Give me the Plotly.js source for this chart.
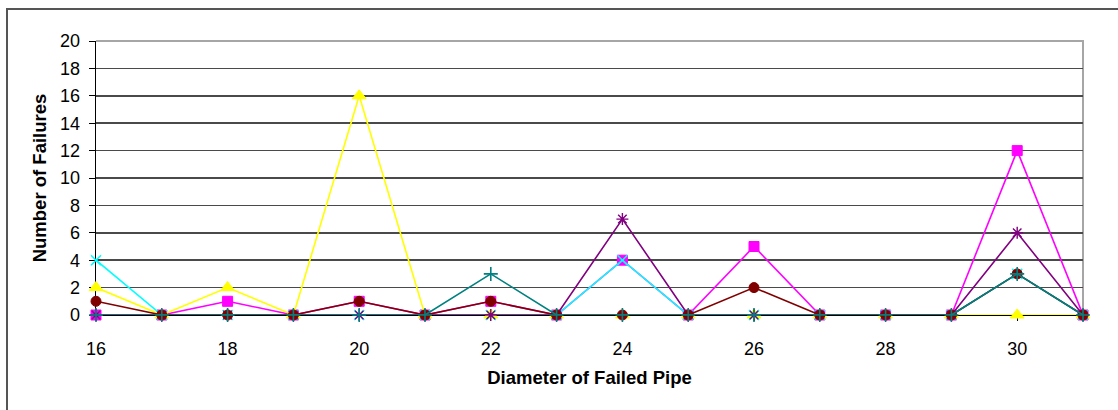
<!DOCTYPE html>
<html>
<head>
<meta charset="utf-8">
<script src="https://cdn.plot.ly/plotly-3.0.1.min.js"></script>
<style>
  html, body { margin: 0; padding: 0; background: #ffffff; overflow: hidden; }
  #frame {
    position: absolute; left: 6px; top: 8px;
    width: 1300px; height: 600px;
    border: 2px solid #555555; box-sizing: border-box;
  }
  #chart { position: absolute; left: 0; top: 0; width: 1118px; height: 410px; }
</style>
</head>
<body>
<div id="frame"></div>
<div id="chart"></div>
<script>
// Pipe diameters (x axis categories)
const diameters = [16, 17, 18, 19, 20, 21, 22, 23, 24, 25, 26, 27, 28, 29, 30, 31];
const xTickVals = [16, 18, 20, 22, 24, 26, 28, 30];

// Failure counts per series
const seriesMagenta = [0, 0, 1, 0, 1, 0, 1, 0, 4, 0, 5, 0, 0, 0, 12, 0];
const seriesYellow  = [2, 0, 2, 0, 16, 0, 0, 0, 0, 0, 0, 0, 0, 0, 0, 0];
const seriesCyan    = [4, 0, 0, 0, 0, 0, 0, 0, 4, 0, 0, 0, 0, 0, 3, 0];
const seriesPurple  = [0, 0, 0, 0, 0, 0, 0, 0, 7, 0, 0, 0, 0, 0, 6, 0];
const seriesDarkRed = [1, 0, 0, 0, 1, 0, 1, 0, 0, 0, 2, 0, 0, 0, 3, 0];
const seriesTeal    = [0, 0, 0, 0, 0, 0, 3, 0, 0, 0, 0, 0, 0, 0, 3, 0];

function line(name, y, color, symbol, size, lineW) {
  return {
    type: 'scatter', mode: 'lines+markers', name: name,
    x: diameters, y: y,
    line: { color: color, width: 1.6 },
    marker: { symbol: symbol, size: size, color: color, line: { color: color, width: lineW } },
    cliponaxis: false, showlegend: false
  };
}

const traces = [
  line('Series 2', seriesMagenta, '#FF00FF', 'square', 10, 1),
  line('Series 3', seriesYellow,  '#FFFF00', 'triangle-up', 12, 1),
  line('Series 4', seriesCyan,    '#00FFFF', 'x-thin-open', 10, 1.6),
  line('Series 5', seriesPurple,  '#800080', 'asterisk-open', 10, 1.4),
  line('Series 6', seriesDarkRed, '#800000', 'circle', 10, 1),
  line('Series 7', seriesTeal,    '#008080', 'cross-thin-open', 10, 1.6)
];

const tickFont = { family: 'Liberation Sans, Arial, sans-serif', size: 18, color: '#000000' };
const titleFont = { family: 'Liberation Sans, Arial, sans-serif', size: 18.5, color: '#000000', weight: 'bold' };

const layout = {
  width: 1118, height: 410,
  margin: { l: 96, r: 35, t: 41, b: 95 },
  paper_bgcolor: 'rgba(0,0,0,0)', plot_bgcolor: '#ffffff',
  xaxis: {
    range: [16, 31], tickvals: xTickVals, ticktext: xTickVals.map(String),
    showgrid: false, zeroline: false,
    showline: true, linecolor: '#000000', linewidth: 1,
    ticks: 'outside', ticklen: 5, tickcolor: '#000000', tickwidth: 1,
    ticklabelstandoff: 12,
    tickfont: tickFont, layer: 'below traces',
    title: { text: '<b>Diameter of Failed Pipe</b>', font: titleFont, standoff: 13 }
  },
  yaxis: {
    range: [0, 20], dtick: 2, tick0: 0,
    showgrid: true, gridcolor: '#4a4a4a', gridwidth: 1.6,
    zeroline: false,
    showline: true, linecolor: '#000000', linewidth: 1.4,
    ticks: 'outside', ticklen: 6, tickcolor: '#000000', tickwidth: 1,
    ticklabelstandoff: 5,
    tickfont: tickFont, layer: 'below traces',
    title: { text: '<b>Number of Failures</b>', font: titleFont, standoff: 8 }
  },
  shapes: [{
    type: 'path', xref: 'paper', yref: 'paper', layer: 'between',
    path: 'M 0 1 L 1 1 L 1 0',
    line: { color: '#a6a6a6', width: 2 }
  }]
};

Plotly.newPlot('chart', traces, layout, { staticPlot: true, displayModeBar: false });
</script>
</body>
</html>
